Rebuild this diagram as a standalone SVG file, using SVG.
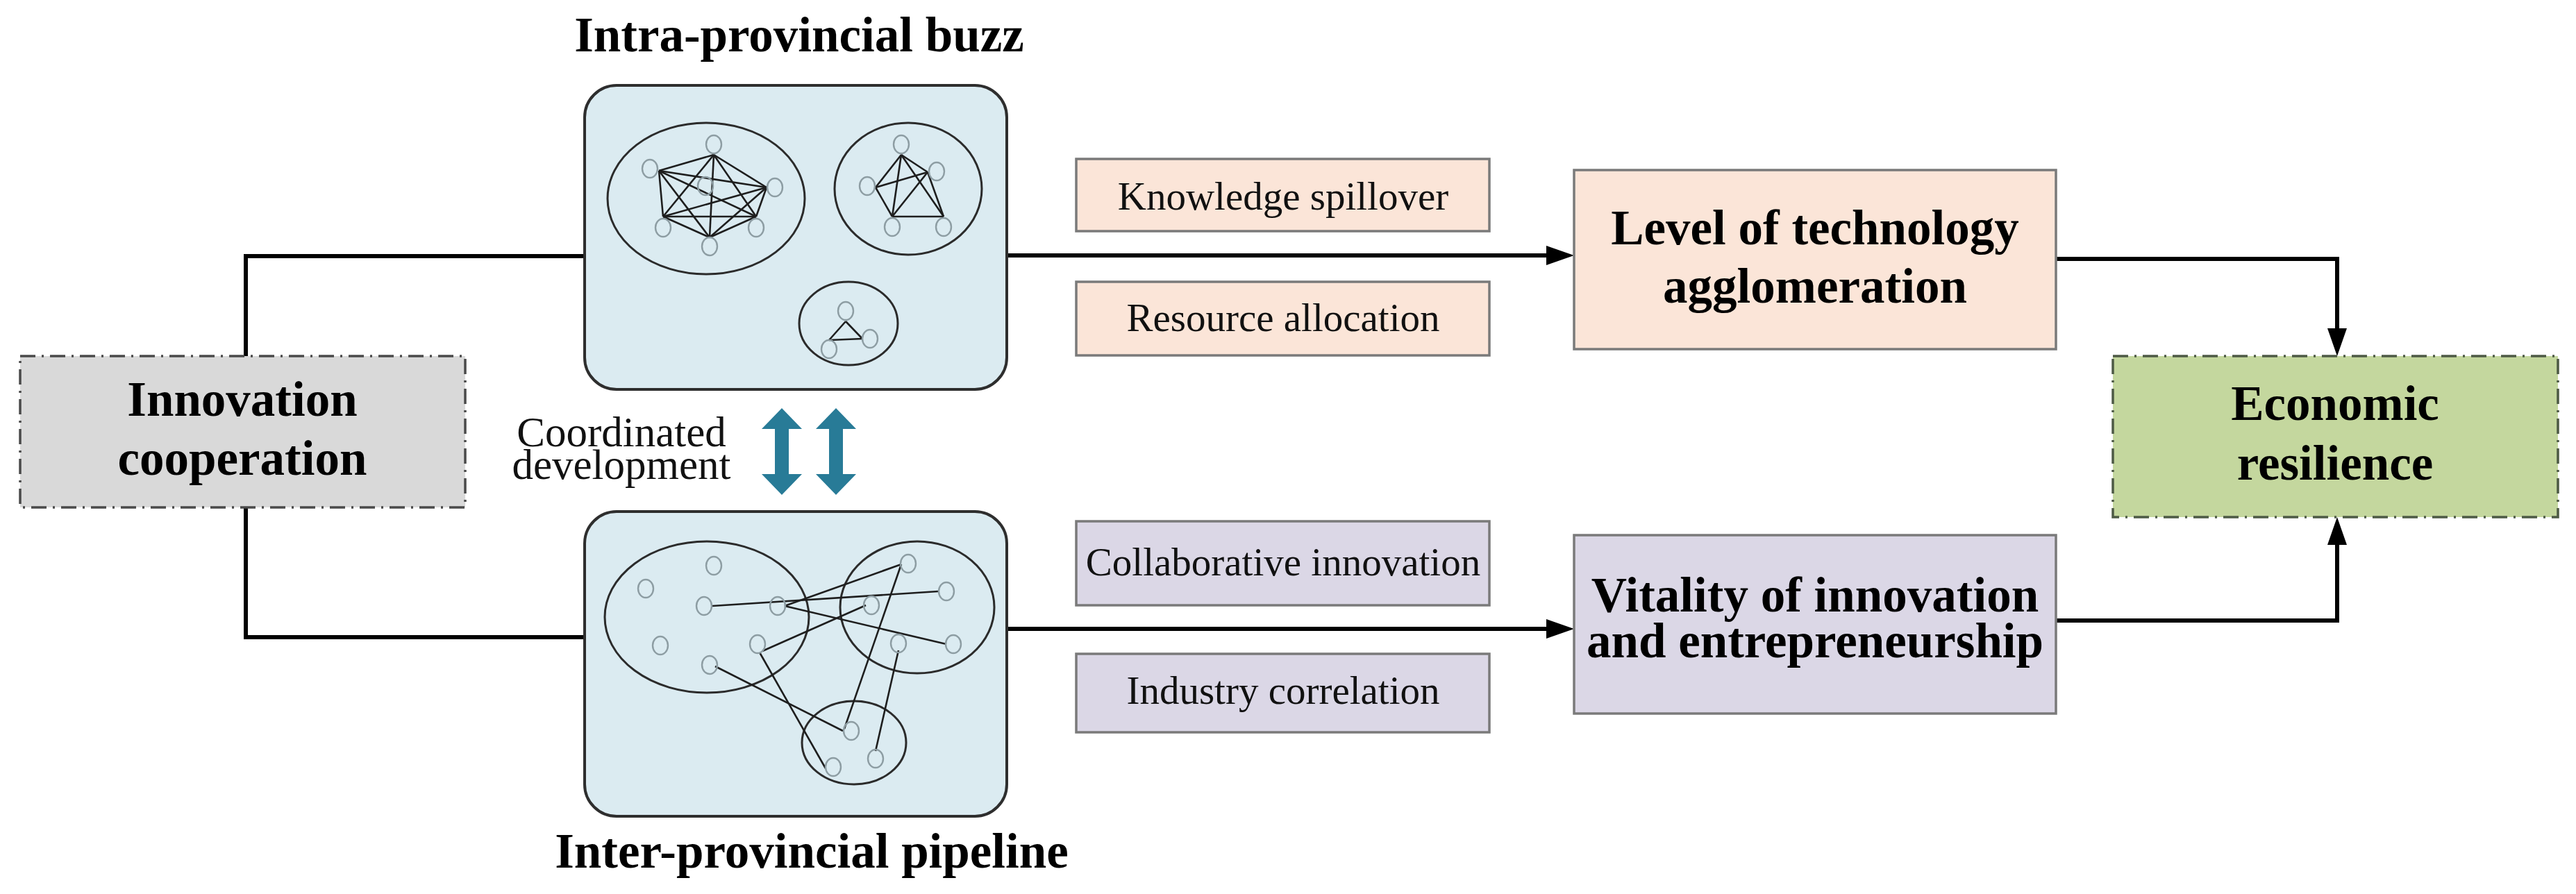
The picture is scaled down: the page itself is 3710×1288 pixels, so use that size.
<svg xmlns="http://www.w3.org/2000/svg" width="3710" height="1288" viewBox="0 0 3710 1288">
<style>
.bold{font-family:"Liberation Serif","Times New Roman",serif;font-weight:bold;font-size:71px;fill:#000;text-anchor:middle}
.reg{font-family:"Liberation Serif","Times New Roman",serif;font-size:57px;fill:#111;text-anchor:middle}
.coord{font-family:"Liberation Serif","Times New Roman",serif;font-size:61px;fill:#111;text-anchor:middle}
.panel{fill:#dbebf1;stroke:#2e2e2e;stroke-width:4}
.clu{fill:none;stroke:#2b2b2b;stroke-width:3}
.ed{stroke:#1e1e1e;stroke-width:2.6;fill:none}
.nd{fill:none;stroke:#8d9da3;stroke-width:2.4}
.peach{fill:#fbe5d8;stroke:#7a7a7a;stroke-width:3.5}
.lav{fill:#dbd7e6;stroke:#7a7a7a;stroke-width:3.5}
.conn{fill:none;stroke:#000;stroke-width:6}
.dashbox{stroke-width:3.5;stroke-dasharray:22 9 3 9}
.blk{fill:#287b97}
</style>
<defs>
<marker id="ah" markerUnits="userSpaceOnUse" markerWidth="40" markerHeight="28" refX="10" refY="14" orient="auto">
<path d="M0,0 L40,14 L0,28 z" fill="#000"/>
</marker>
</defs>

<!-- connectors -->
<g id="connectors">
<path class="conn" d="M354,513 V369 H842"/>
<path class="conn" d="M354,731 V918 H842"/>
<path class="conn" d="M1450,368 H2237" marker-end="url(#ah)"/>
<path class="conn" d="M1450,906 H2237" marker-end="url(#ah)"/>
<path class="conn" d="M2961,373 H3366 V483" marker-end="url(#ah)"/>
<path class="conn" d="M2961,894 H3366 V775" marker-end="url(#ah)"/>
</g>

<!-- Innovation cooperation -->
<g id="innovation-cooperation">
<rect x="29" y="513" width="641" height="218" fill="#d9d9d9" stroke="#4a4a4a" class="dashbox"/>
<text class="bold" x="349" y="599">Innovation</text>
<text class="bold" x="349" y="684">cooperation</text>
</g>

<!-- Intra-provincial buzz -->
<g id="intra-provincial-buzz">
<text class="bold" x="1151" y="74">Intra-provincial buzz</text>
<rect class="panel" x="842" y="123" width="608" height="438" rx="46" ry="46"/>
<ellipse class="clu" cx="1017" cy="286" rx="142" ry="109"/>
<ellipse class="clu" cx="1308" cy="272" rx="106" ry="95"/>
<ellipse class="clu" cx="1222" cy="466" rx="71" ry="60"/>
<g class="ed">
<!-- K6 big cluster -->
<line x1="1028" y1="223" x2="949" y2="246"/>
<line x1="1028" y1="223" x2="1104" y2="270"/>
<line x1="1028" y1="223" x2="955" y2="312"/>
<line x1="1028" y1="223" x2="1089" y2="312"/>
<line x1="1028" y1="223" x2="1022" y2="342"/>
<line x1="949" y1="246" x2="1104" y2="270"/>
<line x1="949" y1="246" x2="955" y2="312"/>
<line x1="949" y1="246" x2="1089" y2="312"/>
<line x1="949" y1="246" x2="1022" y2="342"/>
<line x1="1104" y1="270" x2="955" y2="312"/>
<line x1="1104" y1="270" x2="1089" y2="312"/>
<line x1="1104" y1="270" x2="1022" y2="342"/>
<line x1="955" y1="312" x2="1089" y2="312"/>
<line x1="955" y1="312" x2="1022" y2="342"/>
<line x1="1089" y1="312" x2="1022" y2="342"/>
<!-- right cluster -->
<line x1="1298" y1="223" x2="1261" y2="270"/>
<line x1="1298" y1="223" x2="1285" y2="312"/>
<line x1="1298" y1="223" x2="1336" y2="248"/>
<line x1="1298" y1="223" x2="1359" y2="312"/>
<line x1="1261" y1="270" x2="1336" y2="248"/>
<line x1="1261" y1="270" x2="1285" y2="312"/>
<line x1="1336" y1="248" x2="1285" y2="312"/>
<line x1="1336" y1="248" x2="1359" y2="312"/>
<line x1="1285" y1="312" x2="1359" y2="312"/>
<!-- small triangle -->
<line x1="1218" y1="463" x2="1242" y2="488"/>
<line x1="1218" y1="463" x2="1194" y2="490"/>
<line x1="1194" y1="490" x2="1242" y2="488"/>
</g>
<g class="nd">
<ellipse cx="1028" cy="208" rx="11" ry="13"/>
<ellipse cx="936" cy="243" rx="11" ry="13"/>
<ellipse cx="1116" cy="270" rx="11" ry="13"/>
<ellipse cx="955" cy="328" rx="11" ry="13"/>
<ellipse cx="1089" cy="328" rx="11" ry="13"/>
<ellipse cx="1022" cy="355" rx="11" ry="13"/>
<ellipse cx="1016" cy="268" rx="11" ry="13"/>
<ellipse cx="1298" cy="208" rx="11" ry="13"/>
<ellipse cx="1349" cy="247" rx="11" ry="13"/>
<ellipse cx="1249" cy="268" rx="11" ry="13"/>
<ellipse cx="1285" cy="327" rx="11" ry="13"/>
<ellipse cx="1359" cy="327" rx="11" ry="13"/>
<ellipse cx="1218" cy="448" rx="11" ry="13"/>
<ellipse cx="1253" cy="488" rx="11" ry="13"/>
<ellipse cx="1194" cy="503" rx="11" ry="13"/>
</g>
</g>

<!-- Coordinated development -->
<g id="coordinated-development">
<text class="coord" x="895" y="643">Coordinated</text>
<text class="coord" x="895" y="690">development</text>
<polygon class="blk" points="1126,588 1155,618 1136,618 1136,683 1155,683 1126,713 1097,683 1116,683 1116,618 1097,618"/>
<polygon class="blk" points="1204,588 1233,618 1214,618 1214,683 1233,683 1204,713 1175,683 1194,683 1194,618 1175,618"/>
</g>

<!-- Inter-provincial pipeline -->
<g id="inter-provincial-pipeline">
<rect class="panel" x="842" y="737" width="608" height="439" rx="46" ry="46"/>
<ellipse class="clu" cx="1018" cy="889" rx="147" ry="109"/>
<ellipse class="clu" cx="1321" cy="875" rx="111" ry="95"/>
<ellipse class="clu" cx="1230" cy="1070" rx="75" ry="60"/>
<g class="ed">
<line x1="1026" y1="873" x2="1351" y2="852"/>
<line x1="1130" y1="873" x2="1298" y2="813"/>
<line x1="1130" y1="873" x2="1363" y2="928"/>
<line x1="1098" y1="938" x2="1247" y2="872"/>
<line x1="1094" y1="940" x2="1189" y2="1107"/>
<line x1="1030" y1="960" x2="1214" y2="1053"/>
<line x1="1298" y1="813" x2="1216" y2="1050"/>
<line x1="1294" y1="937" x2="1261" y2="1082"/>
</g>
<g class="nd">
<ellipse cx="1028" cy="815" rx="11" ry="13"/>
<ellipse cx="930" cy="848" rx="11" ry="13"/>
<ellipse cx="1014" cy="873" rx="11" ry="13"/>
<ellipse cx="1120" cy="873" rx="11" ry="13"/>
<ellipse cx="951" cy="930" rx="11" ry="13"/>
<ellipse cx="1091" cy="928" rx="11" ry="13"/>
<ellipse cx="1022" cy="958" rx="11" ry="13"/>
<ellipse cx="1308" cy="812" rx="11" ry="13"/>
<ellipse cx="1363" cy="852" rx="11" ry="13"/>
<ellipse cx="1255" cy="872" rx="11" ry="13"/>
<ellipse cx="1294" cy="927" rx="11" ry="13"/>
<ellipse cx="1373" cy="928" rx="11" ry="13"/>
<ellipse cx="1226" cy="1053" rx="11" ry="13"/>
<ellipse cx="1261" cy="1093" rx="11" ry="13"/>
<ellipse cx="1200" cy="1105" rx="11" ry="13"/>
</g>
<text class="bold" x="1169" y="1250">Inter-provincial pipeline</text>
</g>

<!-- mechanism labels -->
<g id="knowledge-spillover">
<rect class="peach" x="1550" y="229" width="595" height="104"/>
<text class="reg" x="1848" y="302">Knowledge spillover</text>
</g>
<g id="resource-allocation">
<rect class="peach" x="1550" y="406" width="595" height="106"/>
<text class="reg" x="1848" y="477">Resource allocation</text>
</g>
<g id="collaborative-innovation">
<rect class="lav" x="1550" y="751" width="595" height="121"/>
<text class="reg" x="1848" y="829">Collaborative innovation</text>
</g>
<g id="industry-correlation">
<rect class="lav" x="1550" y="942" width="595" height="113"/>
<text class="reg" x="1848" y="1014">Industry correlation</text>
</g>

<!-- outcome boxes -->
<g id="level-of-technology-agglomeration">
<rect class="peach" x="2267" y="245" width="694" height="258"/>
<text class="bold" x="2614" y="352">Level of technology</text>
<text class="bold" x="2614" y="436">agglomeration</text>
</g>
<g id="vitality-of-innovation-and-entrepreneurship">
<rect class="lav" x="2267" y="771" width="694" height="257"/>
<text class="bold" x="2614" y="881">Vitality of innovation</text>
<text class="bold" x="2614" y="947">and entrepreneurship</text>
</g>
<g id="economic-resilience">
<rect x="3043" y="513" width="641" height="232" fill="#c4d79e" stroke="#4d5a45" class="dashbox"/>
<text class="bold" x="3363" y="605">Economic</text>
<text class="bold" x="3363" y="691">resilience</text>
</g>
</svg>
